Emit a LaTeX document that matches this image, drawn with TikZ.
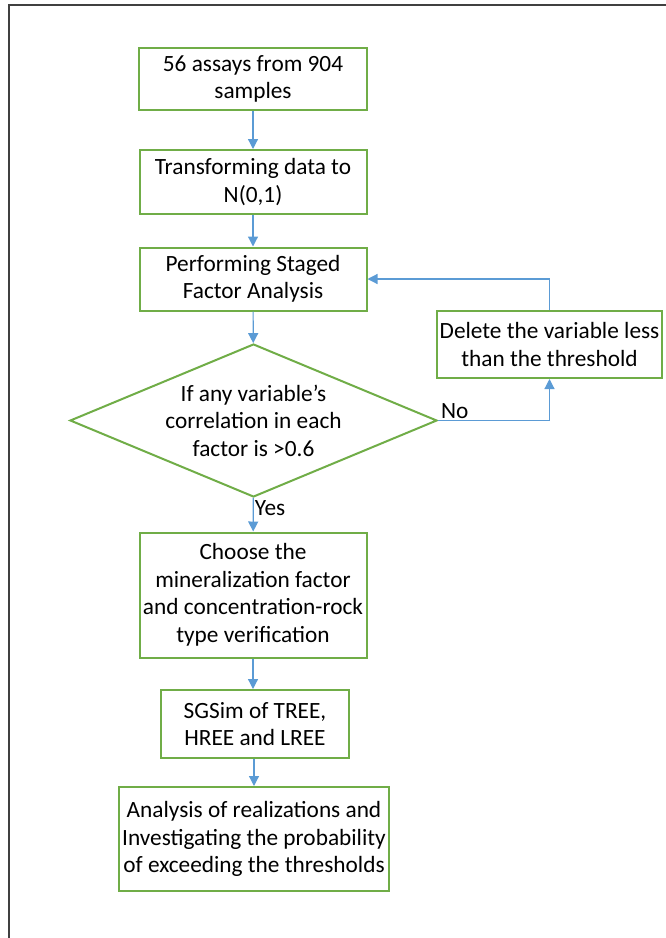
\documentclass[tikz,border=0pt]{standalone}
\usepackage{fontspec}
\setmainfont{Carlito}
\usetikzlibrary{arrows.meta,shapes.geometric,positioning}
\definecolor{boxgreen}{HTML}{70AD47}
\definecolor{flowblue}{HTML}{5B9BD5}
\definecolor{framegray}{HTML}{404040}
\tikzset{
  stepbox/.style={draw=boxgreen, line width=2pt, fill=white, align=center, inner sep=2pt,
    font=\fontsize{23.3}{27.5}\selectfont},
  decision/.style={stepbox, diamond, aspect=2.4, inner sep=0pt},
  flow/.style={-{Triangle[length=10pt,width=10pt]}, flowblue, line width=1.2pt},
  label/.style={text=black, font=\fontsize{23.3}{27.5}\selectfont, inner sep=1pt},
  frame/.style={draw=framegray, line width=2pt}
}
\begin{document}
\begin{tikzpicture}[x=1pt,y=-1pt]
  \useasboundingbox (0,0) rectangle (665,938);
  \draw[frame] (8.5,940) -- (8.5,4.5) -- (667,4.5);
  % main column
  \node[stepbox, minimum width=228pt, minimum height=62pt] (assays) at (253,79) {56 assays from 904\\samples};
  \node[stepbox, minimum width=227pt, minimum height=64pt] (transform) at (253,182) {Transforming data to\\N(0,1)};
  \node[stepbox, minimum width=227pt, minimum height=63pt] (staged) at (253,279) {Performing Staged\\Factor Analysis};
  \node[decision, minimum width=367pt, minimum height=153pt] (corr) at (253.5,420.5) {If any variable’s\\correlation in each\\factor is >0.6};
  \node[stepbox, minimum width=227pt, minimum height=125pt] (choose) at (253,595) {Choose the\\mineralization factor\\and concentration-rock\\type verification};
  \node[stepbox, minimum width=188pt, minimum height=68pt] (sgsim) at (255,724) {SGSim of TREE,\\HREE and LREE};
  \node[stepbox, minimum width=270pt, minimum height=104pt] (realiz) at (254,839) {Analysis of realizations and\\Investigating the probability\\of exceeding the thresholds};
  % loop back
  \node[stepbox, minimum width=225pt, minimum height=67pt] (delete) at (549.5,344.5) {Delete the variable less\\than the threshold};
  \draw[flow] (assays) -- (transform);
  \draw[flow] (transform) -- (staged);
  \draw[flow] (staged) -- (corr);
  \draw[flow] (corr) -- node[label, right, pos=0.3] {Yes} (choose);
  \draw[flow] (choose) -- (sgsim.north -| choose.south);
  \draw[flow] (sgsim.south -| realiz.north) -- (realiz);
  \draw[flow] (corr.east) -- node[label, above, pos=0.15] {No} (corr.east -| delete.south) -- (delete.south);
  \draw[flow] (delete.north) |- (staged.east);
\end{tikzpicture}
\end{document}
